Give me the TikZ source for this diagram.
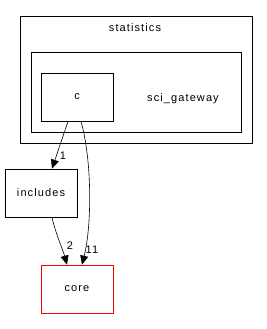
\documentclass[tikz,border=0pt]{standalone}
\usepackage{fontspec}
\setmainfont[LetterSpace=10]{Liberation Sans}
\usetikzlibrary{arrows.meta}
\begin{document}
\begin{tikzpicture}[x=1pt,y=-1pt,
  box/.style={draw=black,line width=0.8pt,inner sep=0pt},
  lbl/.style={font=\fontsize{11}{12}\selectfont,inner sep=0pt},
  elbl/.style={font=\fontsize{11}{12}\selectfont,inner sep=0pt},
  dep/.style={draw=black,line width=0.6pt,-{Triangle[length=9pt,width=8pt]}}]
\useasboundingbox (0,0) rectangle (267,329);
\draw[box] (20,16) rectangle (252,143);
\node[lbl] (stat) at (135,28) {statistics};
\draw[box] (31,52) rectangle (241,132);
\node[lbl] (sg) at (183,99) {sci\_gateway};
\node[box,minimum width=72pt,minimum height=48pt,lbl] (c) at (77,97) {c};
\node[box,minimum width=72pt,minimum height=48pt,lbl] (inc) at (41,193) {includes};
\node[box,draw=red,minimum width=72pt,minimum height=48pt,lbl] (core) at (77,289) {core};
\draw[dep] ([xshift=-9pt]c.south) -- ([xshift=11pt]inc.north);
\node[elbl] (l1) at (63,156) {1};
\draw[dep] ([xshift=11pt]inc.south) .. controls (56,235) and (63,250) .. ([xshift=-10pt]core.north);
\node[elbl] (l2) at (70,246) {2};
\draw[dep] ([xshift=4pt]c.south) .. controls (92,160) and (92,225) .. ([xshift=5pt]core.north);
\node[elbl] (l3) at (92,250) {11};
\end{tikzpicture}
\end{document}
